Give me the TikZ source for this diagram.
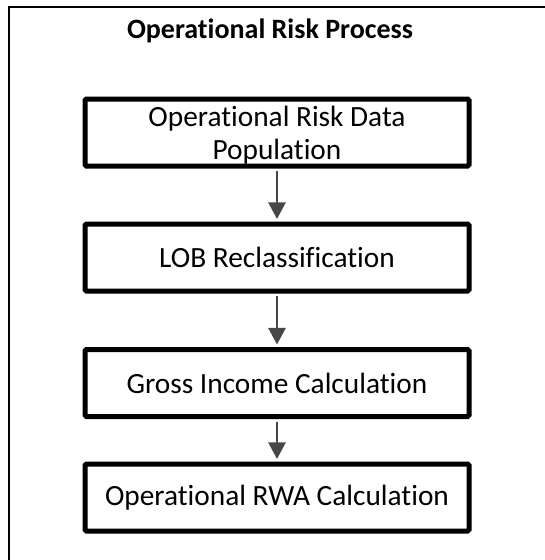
\documentclass[tikz,border=0pt]{standalone}
\usepackage{fontspec}
\setmainfont{Carlito}[Ligatures={NoCommon,NoRare,NoContextual},RawFeature={-liga;-dlig;-clig}]
\usetikzlibrary{arrows.meta}
\begin{document}
\begin{tikzpicture}[x=0.75pt,y=-0.75pt,
  stepbox/.style={draw=black, line width=3.75pt, rounded corners=1pt,
    minimum width=288pt, minimum height=50.25pt, inner sep=0pt, align=center,
    font=\fontsize{22pt}{24.5pt}\selectfont},
  flow/.style={draw=black!72, line width=1.5pt, shorten <=1.9pt, shorten >=1.9pt,
    -{Triangle[length=12.5pt,width=13pt]}}]
\useasboundingbox (0,0) rectangle (545,560);
\clip (0,0) rectangle (545,560);
\draw[line width=1pt] (9,7) rectangle (600,600);
\node[font=\fontsize{21pt}{24pt}\selectfont\bfseries] (title) at (270,31) {Operational Risk Process};
\node[stepbox] (b1) at (277,132.5) {};
\node[align=center, inner sep=0pt, font=\fontsize{22pt}{24.5pt}\selectfont] (b1t) at (277,135) {Operational Risk Data\\Population};
\node[stepbox] (b2) at (277,257.5) {LOB Reclassification};
\node[stepbox] (b3) at (277,383) {Gross Income Calculation};
\node[stepbox] (b4) at (277,497.5) {Operational RWA Calculation};
\draw[flow] (b1.south) -- (b2.north);
\draw[flow] (b2.south) -- (b3.north);
\draw[flow] (b3.south) -- (b4.north);
\end{tikzpicture}
\end{document}
